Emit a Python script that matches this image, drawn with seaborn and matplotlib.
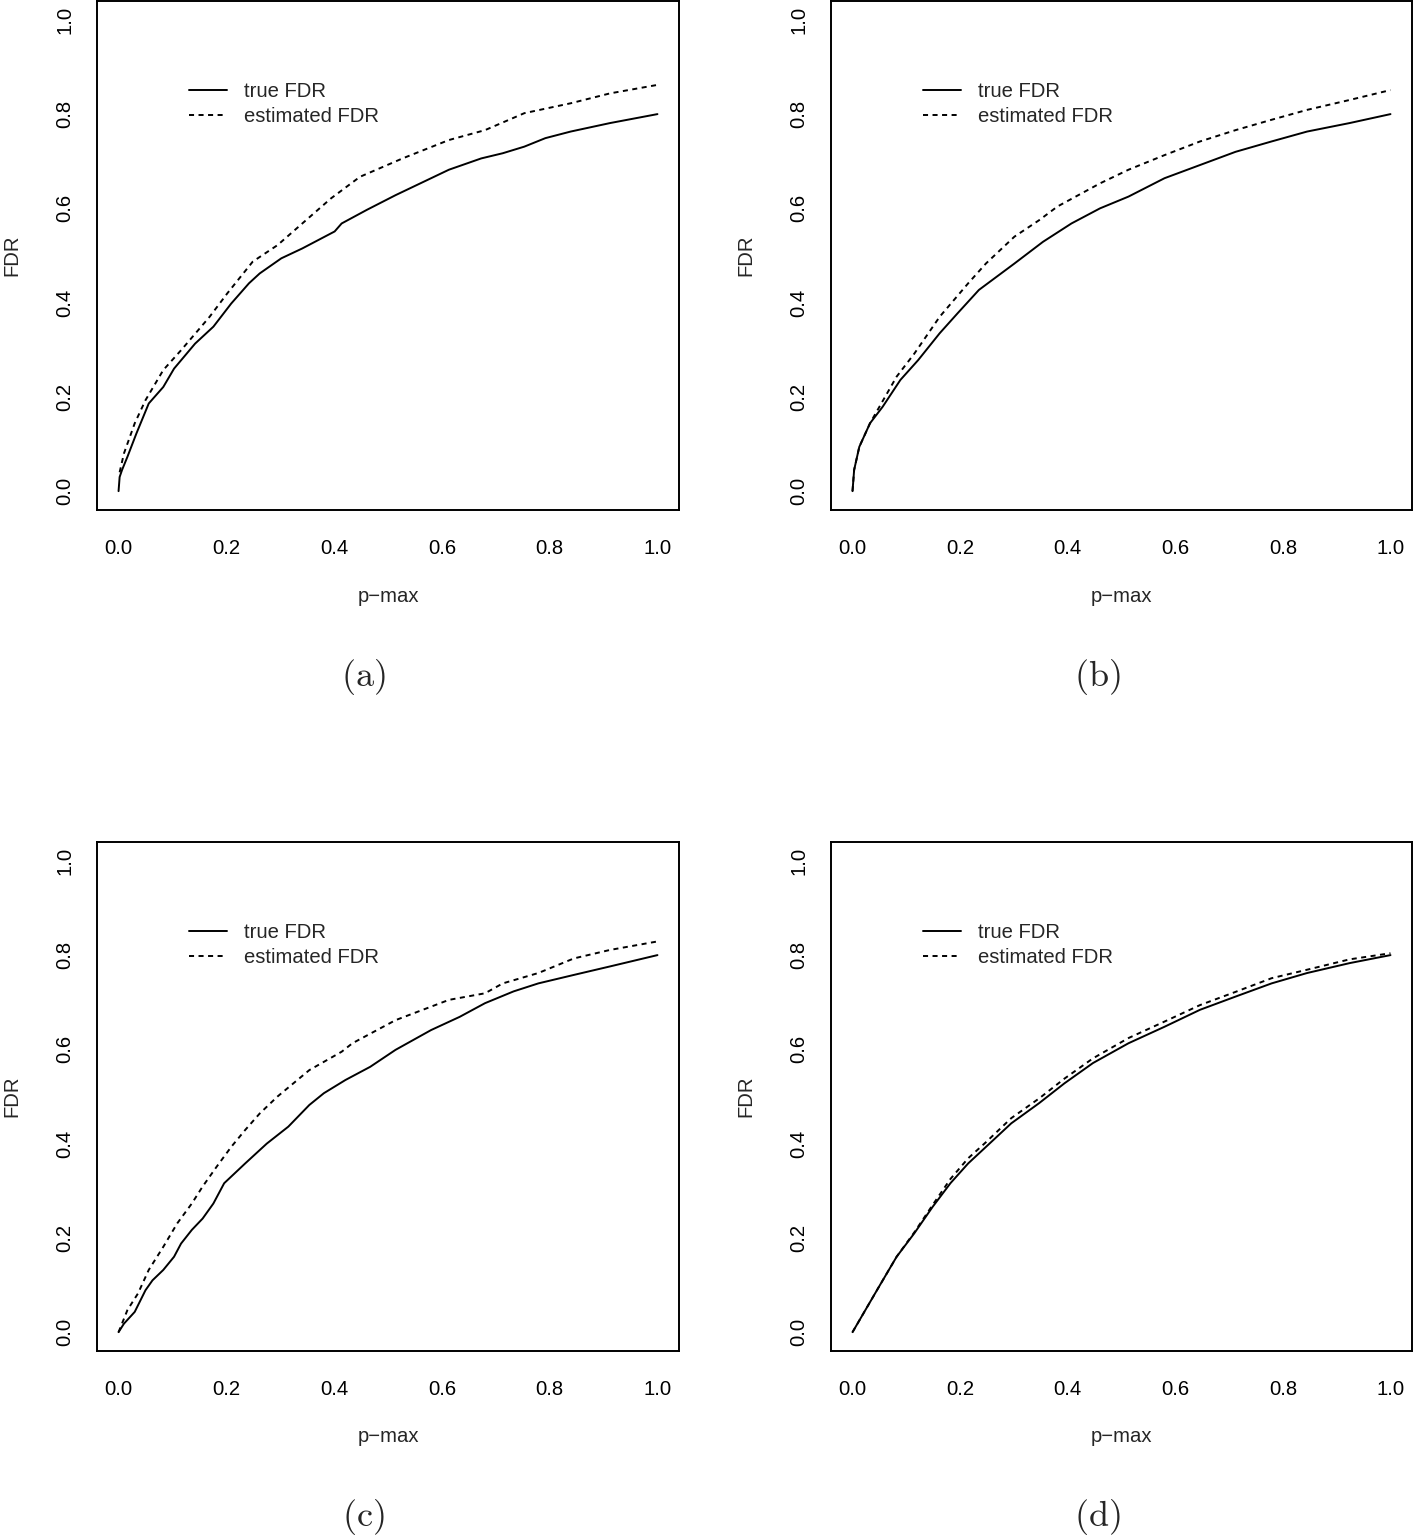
import matplotlib
matplotlib.use("Agg")
import matplotlib.pyplot as plt
import seaborn as sns

# ---------------- data ----------------
a_true_x = [0, 0.002, 0.0065, 0.0165, 0.033, 0.056, 0.083, 0.103, 0.142, 0.176, 0.209,
            0.242, 0.262, 0.302, 0.341, 0.401, 0.414, 0.461, 0.514, 0.580, 0.613, 0.673,
            0.713, 0.753, 0.792, 0.839, 0.912, 1.0]
a_true_y = [0, 0.03, 0.045, 0.073, 0.122, 0.186, 0.221, 0.26, 0.313, 0.349, 0.398,
            0.441, 0.462, 0.494, 0.515, 0.551, 0.568, 0.597, 0.628, 0.664, 0.682, 0.706,
            0.717, 0.731, 0.749, 0.763, 0.781, 0.80]
a_est_x = [0.002, 0.01, 0.03, 0.05, 0.083, 0.116, 0.169, 0.202, 0.249, 0.295, 0.341,
           0.394, 0.448, 0.527, 0.613, 0.68, 0.753, 0.839, 0.912, 1.0]
a_est_y = [0.04, 0.08, 0.144, 0.193, 0.257, 0.299, 0.37, 0.42, 0.487, 0.522, 0.568,
           0.621, 0.667, 0.706, 0.745, 0.766, 0.802, 0.823, 0.844, 0.862]

b_true_x = [0, 0.003, 0.0126, 0.0325, 0.056, 0.089, 0.122, 0.162, 0.195, 0.235, 0.268,
            0.301, 0.354, 0.407, 0.46, 0.513, 0.58, 0.646, 0.712, 0.779, 0.845, 0.924, 1.0]
b_true_y = [0, 0.045, 0.094, 0.144, 0.179, 0.236, 0.278, 0.335, 0.377, 0.427, 0.455,
            0.483, 0.529, 0.568, 0.6, 0.625, 0.664, 0.692, 0.72, 0.742, 0.763, 0.781, 0.80]
b_est_x = [0, 0.003, 0.0126, 0.0325, 0.05, 0.082, 0.115, 0.162, 0.215, 0.248, 0.301,
           0.347, 0.381, 0.46, 0.513, 0.58, 0.646, 0.712, 0.779, 0.845, 0.924, 1.0]
b_est_y = [0, 0.045, 0.094, 0.144, 0.179, 0.243, 0.292, 0.37, 0.441, 0.483, 0.54,
           0.575, 0.604, 0.653, 0.682, 0.713, 0.742, 0.766, 0.788, 0.809, 0.830, 0.851]

c_true_x = [0, 0.01, 0.03, 0.05, 0.063, 0.083, 0.103, 0.116, 0.136, 0.156, 0.176, 0.196,
            0.235, 0.275, 0.315, 0.354, 0.381, 0.421, 0.467, 0.514, 0.58, 0.633, 0.68,
            0.733, 0.779, 0.845, 0.912, 1.0]
c_true_y = [0, 0.018, 0.043, 0.089, 0.11, 0.132, 0.16, 0.188, 0.217, 0.241, 0.273, 0.316,
            0.358, 0.40, 0.436, 0.482, 0.507, 0.535, 0.563, 0.599, 0.641, 0.669, 0.698,
            0.723, 0.74, 0.758, 0.776, 0.80]
c_est_x = [0, 0.0165, 0.036, 0.056, 0.083, 0.109, 0.136, 0.156, 0.182, 0.209, 0.235,
           0.262, 0.295, 0.354, 0.414, 0.434, 0.514, 0.613, 0.68, 0.713, 0.779, 0.845,
           0.912, 1.0]
c_est_y = [0, 0.047, 0.082, 0.132, 0.181, 0.231, 0.273, 0.309, 0.351, 0.393, 0.429,
           0.464, 0.50, 0.556, 0.595, 0.613, 0.662, 0.705, 0.719, 0.74, 0.762, 0.793,
           0.811, 0.829]

d_true_x = [0, 0.049, 0.082, 0.115, 0.149, 0.182, 0.215, 0.248, 0.295, 0.347,
            0.394, 0.447, 0.513, 0.58, 0.646, 0.712, 0.779, 0.845, 0.924, 1.0]
d_true_y = [0, 0.096, 0.16, 0.21, 0.266, 0.316, 0.358, 0.393, 0.443, 0.486,
            0.528, 0.571, 0.613, 0.648, 0.684, 0.712, 0.74, 0.762, 0.783, 0.80]
d_est_x = [0, 0.049, 0.082, 0.115, 0.149, 0.182, 0.215, 0.248, 0.295, 0.347,
           0.394, 0.447, 0.513, 0.58, 0.646, 0.712, 0.779, 0.845, 0.924, 1.0]
d_est_y = [0, 0.096, 0.16, 0.212, 0.27, 0.325, 0.369, 0.403, 0.454, 0.496,
           0.538, 0.581, 0.624, 0.659, 0.694, 0.722, 0.751, 0.769, 0.791, 0.804]

panel_labels = ["(a)", "(b)", "(c)", "(d)"]
series_labels = ["true FDR", "estimated FDR"]
tick_values = [0.0, 0.2, 0.4, 0.6, 0.8, 1.0]
tick_labels = ["0.0", "0.2", "0.4", "0.6", "0.8", "1.0"]
x_label = "p\u2212max"
y_label = "FDR"

panels = [
    (a_true_x, a_true_y, a_est_x, a_est_y),
    (b_true_x, b_true_y, b_est_x, b_est_y),
    (c_true_x, c_true_y, c_est_x, c_est_y),
    (d_true_x, d_true_y, d_est_x, d_est_y),
]

# ---------------- style ----------------
sns.set_style("white")
plt.rcParams["font.family"] = ["Liberation Sans", "DejaVu Sans"]
plt.rcParams["mathtext.fontset"] = "cm"

W, H = 1413, 1536
DPI = 100
fig = plt.figure(figsize=(W / DPI, H / DPI), dpi=DPI)

FS = 14.6
LW = 1.4

# axes boxes in pixels: (left, top, right, bottom)
boxes = [(97, 1, 679, 510), (831, 1, 1412, 510),
         (97, 842, 679, 1351), (831, 842, 1412, 1351)]
ylabel_x = [12, 746, 12, 746]
caption_pos = [(363, 677), (1097, 677), (363, 1517), (1097, 1517)]

for i, (tx, ty, ex, ey) in enumerate(panels):
    l, t, r, b = boxes[i]
    w_px, h_px = r - l, b - t
    ax = fig.add_axes([l / W, (H - b) / H, w_px / W, h_px / H])
    sns.lineplot(x=tx, y=ty, ax=ax, color="black", linewidth=LW,
                 estimator=None, sort=False, legend=False)
    sns.lineplot(x=ex, y=ey, ax=ax, color="black", linewidth=LW,
                 linestyle=(0, (2.6, 2.3)), estimator=None, sort=False, legend=False)
    ax.set_xlim(-0.04, 1.04)
    ax.set_ylim(-0.04, 1.04)
    ax.set_xticks(tick_values)
    ax.set_xticklabels(tick_labels)
    ax.set_yticks(tick_values)
    ax.set_yticklabels(tick_labels, rotation=90, va="center")
    ax.tick_params(axis="both", which="major", direction="out", length=9.2,
                   width=LW, labelsize=FS, colors="black")
    ax.tick_params(axis="x", pad=11.5)
    ax.tick_params(axis="y", pad=7)
    for s in ax.spines.values():
        s.set_visible(True)
        s.set_linewidth(LW)
        s.set_color("black")

    ax.set_xlabel(x_label, fontsize=FS)
    ax.set_ylabel(y_label, fontsize=FS)
    ax.xaxis.set_label_coords(0.5, -86 / h_px)
    ax.xaxis.label.set_va("center")
    ax.yaxis.set_label_coords((ylabel_x[i] - l) / w_px, 0.5)
    ax.yaxis.label.set_va("center")

    ax.legend(ax.lines[:2], series_labels, loc="upper left",
              bbox_to_anchor=(92 / w_px, 1 - 81 / h_px),
              frameon=False, borderpad=0, borderaxespad=0,
              handlelength=1.87, handletextpad=0.82, labelspacing=0.32,
              fontsize=FS)

    cx, cy = caption_pos[i]
    fig.text(cx / W, 1 - cy / H, r"$\mathrm{" + panel_labels[i] + "}$",
             ha="center", va="center", fontsize=26)

fig.savefig("out.png", dpi=DPI)
